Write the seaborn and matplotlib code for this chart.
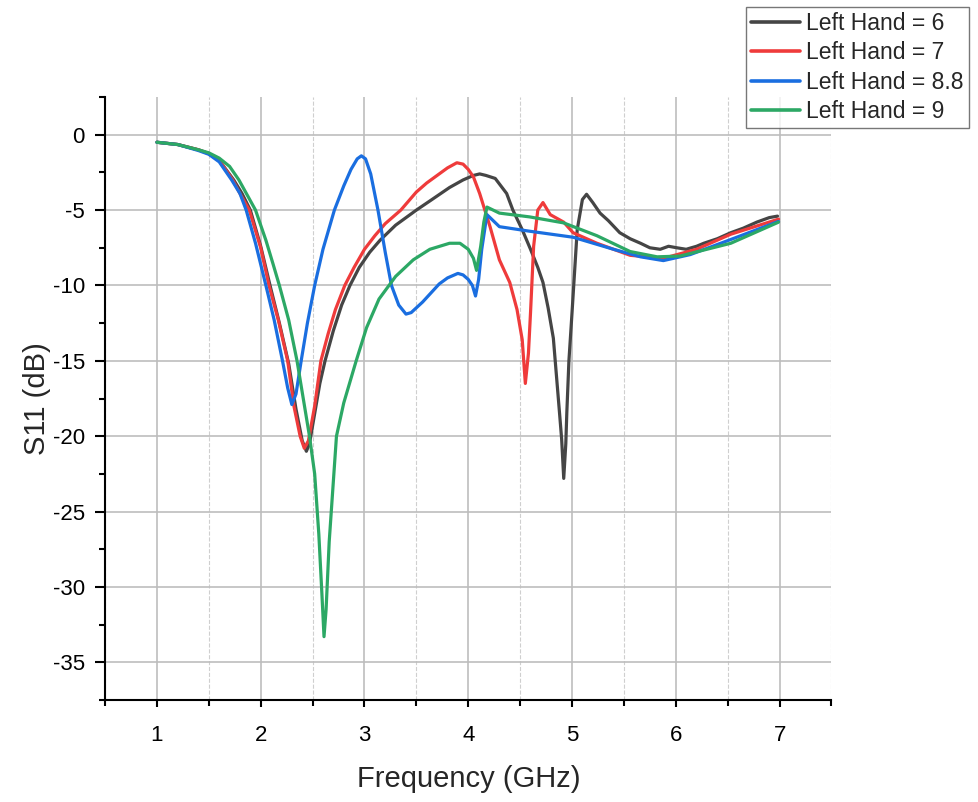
import matplotlib
matplotlib.use('Agg')
import matplotlib.pyplot as plt
from matplotlib.ticker import MultipleLocator
import pandas as pd
import seaborn as sns

# S11 readings per "Left Hand" value (GHz, dB)
f_lh6 = [1.0, 1.2, 1.4, 1.5, 1.6, 1.74, 1.82, 1.9, 2.0, 2.09, 2.18, 2.27, 2.34, 2.4, 2.44, 2.47,
         2.52, 2.57, 2.62, 2.7, 2.78, 2.86, 2.95, 3.05, 3.15, 3.3, 3.5, 3.65, 3.82, 3.95, 4.05,
         4.11, 4.17, 4.26, 4.37, 4.43, 4.52, 4.6, 4.67, 4.72, 4.77, 4.82, 4.85, 4.88, 4.9, 4.92,
         4.94, 4.95, 4.97, 5.0, 5.03, 5.05, 5.1, 5.14, 5.2, 5.27, 5.35, 5.46, 5.56, 5.66, 5.75,
         5.85, 5.93, 6.01, 6.1, 6.2, 6.27, 6.4, 6.53, 6.65, 6.78, 6.9, 6.98]
s_lh6 = [-0.5, -0.65, -1.0, -1.25, -1.7, -3.0, -3.9, -5.0, -7.4, -10.0, -12.5, -15.2, -18.2,
         -20.3, -21.0, -20.5, -18.5, -16.5, -15.0, -13.0, -11.3, -10.0, -8.8, -7.8, -7.0, -6.0,
         -5.0, -4.3, -3.5, -3.0, -2.7, -2.6, -2.7, -2.9, -3.9, -5.0, -6.3, -7.6, -8.8, -9.8,
         -11.5, -13.5, -16.0, -18.5, -20.2, -22.8, -20.5, -18.4, -15.0, -11.8, -8.5, -6.3, -4.3,
         -3.95, -4.5, -5.2, -5.7, -6.5, -6.9, -7.2, -7.5, -7.6, -7.4, -7.5, -7.6, -7.4, -7.2,
         -6.9, -6.5, -6.2, -5.8, -5.5, -5.4]

f_lh7 = [1.0, 1.2, 1.4, 1.5, 1.6, 1.73, 1.8, 1.89, 2.0, 2.08, 2.17, 2.26, 2.32, 2.38, 2.42,
         2.46, 2.52, 2.58, 2.65, 2.72, 2.81, 2.9, 3.0, 3.1, 3.2, 3.35, 3.5, 3.6, 3.7, 3.8, 3.89,
         3.95, 4.0, 4.05, 4.11, 4.21, 4.3, 4.4, 4.47, 4.52, 4.55, 4.58, 4.6, 4.63, 4.67, 4.72,
         4.79, 4.92, 5.01, 5.24, 5.56, 5.88, 6.2, 6.53, 6.99]
s_lh7 = [-0.5, -0.65, -1.0, -1.25, -1.7, -3.0, -3.9, -5.0, -7.5, -10.0, -12.3, -15.0, -18.0,
         -20.0, -20.8, -20.3, -18.0, -15.0, -13.2, -11.6, -10.0, -8.8, -7.6, -6.7, -5.9, -5.0,
         -3.8, -3.2, -2.7, -2.2, -1.86, -1.95, -2.3, -2.8, -3.9, -6.1, -8.3, -9.8, -11.6, -13.6,
         -16.5, -14.5, -11.8, -7.4, -5.0, -4.5, -5.3, -5.8, -6.5, -7.2, -8.0, -8.2, -7.6, -6.6,
         -5.6]

f_lh88 = [1.0, 1.2, 1.4, 1.5, 1.6, 1.72, 1.8, 1.86, 1.95, 2.05, 2.13, 2.21, 2.26, 2.3, 2.34,
          2.39, 2.45, 2.52, 2.6, 2.71, 2.8, 2.87, 2.93, 2.97, 3.01, 3.06, 3.13, 3.2, 3.26, 3.33,
          3.4, 3.45, 3.56, 3.64, 3.72, 3.8, 3.9, 3.95, 4.0, 4.04, 4.07, 4.1, 4.13, 4.18, 4.3,
          4.59, 5.01, 5.4, 5.66, 5.88, 6.14, 6.53, 6.99]
s_lh88 = [-0.5, -0.65, -1.05, -1.3, -1.8, -3.0, -3.9, -5.0, -7.2, -10.0, -12.3, -15.0, -16.8,
          -17.9, -17.2, -15.0, -12.5, -10.0, -7.6, -5.0, -3.4, -2.3, -1.6, -1.4, -1.6, -2.6,
          -5.0, -7.8, -10.0, -11.3, -11.9, -11.8, -11.1, -10.5, -9.9, -9.5, -9.2, -9.3, -9.6,
          -10.0, -10.7, -9.6, -7.6, -5.3, -6.1, -6.4, -6.8, -7.6, -8.1, -8.35, -7.95, -6.95,
          -5.75]

f_lh9 = [1.0, 1.2, 1.4, 1.5, 1.6, 1.7, 1.79, 1.87, 1.95, 2.05, 2.12, 2.18, 2.27, 2.35, 2.41,
         2.47, 2.52, 2.56, 2.59, 2.61, 2.63, 2.66, 2.7, 2.73, 2.8, 2.92, 3.02, 3.14, 3.3, 3.47,
         3.63, 3.82, 3.92, 4.0, 4.05, 4.08, 4.12, 4.15, 4.18, 4.3, 4.59, 4.92, 5.24, 5.56, 5.82,
         6.04, 6.53, 6.99]
s_lh9 = [-0.5, -0.65, -1.0, -1.2, -1.55, -2.1, -3.0, -4.0, -5.0, -7.0, -8.6, -10.0, -12.3,
         -15.0, -17.5, -20.0, -22.5, -26.5, -30.5, -33.3, -31.5, -27.0, -23.0, -20.0, -17.8,
         -15.0, -12.8, -10.9, -9.4, -8.3, -7.6, -7.2, -7.2, -7.6, -8.2, -9.0, -7.4, -5.8,
         -4.8, -5.2, -5.45, -5.85, -6.7, -7.75, -8.1, -8.05, -7.2, -5.8]

labels = ['Left Hand = 6', 'Left Hand = 7', 'Left Hand = 8.8', 'Left Hand = 9']
colors = ['#454545', '#ef3b3b', '#1a6ee0', '#2ca865']

frames = []
for lab, f, s in zip(labels, [f_lh6, f_lh7, f_lh88, f_lh9], [s_lh6, s_lh7, s_lh88, s_lh9]):
    frames.append(pd.DataFrame({'freq': f, 's11': s, 'curve': lab}))
df = pd.concat(frames, ignore_index=True)

sns.set_style('white')
plt.rcParams['font.family'] = ['Liberation Sans', 'DejaVu Sans']
plt.rcParams['axes.unicode_minus'] = False

fig = plt.figure(figsize=(9.79, 8.02), dpi=100)
ax = fig.add_axes([0.1073, 0.1272, 0.742, 0.7518])

sns.lineplot(data=df, x='freq', y='s11', hue='curve', palette=colors, linewidth=2.3,
             sort=False, estimator=None, ax=ax)

ax.set_xlim(0.5, 7.5)
ax.set_ylim(-37.5, 2.5)
ax.xaxis.set_major_locator(MultipleLocator(1))
ax.xaxis.set_minor_locator(MultipleLocator(0.5))
ax.yaxis.set_major_locator(MultipleLocator(5))
ax.yaxis.set_minor_locator(MultipleLocator(2.5))
ax.set_xticks([1, 2, 3, 4, 5, 6, 7])

ax.grid(which='major', color='#bdbdbd', linewidth=1.2, linestyle='-')
ax.grid(which='minor', axis='x', color='#cfcfcf', linewidth=0.8, linestyle='--')
ax.set_axisbelow(True)

for side in ['top', 'right']:
    ax.spines[side].set_visible(False)
for side in ['left', 'bottom']:
    ax.spines[side].set_color('black')
    ax.spines[side].set_linewidth(1.5)

ax.tick_params(which='both', direction='out', width=1.5, labelsize=16,
               left=True, bottom=True, colors='black')
ax.tick_params(axis='y', which='major', length=7.5, pad=7)
ax.tick_params(axis='y', which='minor', length=4.5)
ax.tick_params(axis='x', which='major', length=5, pad=13)
ax.tick_params(axis='x', which='minor', length=4.5)

ax.set_xlabel('Frequency (GHz)', fontsize=21, labelpad=14)
ax.set_ylabel('S11 (dB)', fontsize=21, labelpad=1)

handles, labs = ax.get_legend_handles_labels()
leg = fig.legend(handles, labs, loc='upper right', bbox_to_anchor=(0.994, 0.997),
                 fontsize=16.5, frameon=True, fancybox=False, handlelength=2.1,
                 borderpad=0.22, labelspacing=0.28, handletextpad=0.28, borderaxespad=0.2)
leg.get_frame().set_edgecolor('#555555')
leg.get_frame().set_linewidth(1.0)
for line in leg.get_lines():
    line.set_linewidth(2.6)
ax.get_legend().remove()

fig.savefig('out.png', dpi=100)
